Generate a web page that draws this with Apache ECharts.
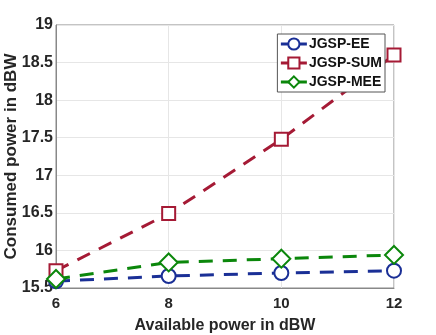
<!DOCTYPE html>
<html>
<head>
<meta charset="utf-8">
<script src="https://cdn.jsdelivr.net/npm/echarts@6/dist/echarts.min.js"></script>
<style>
  html, body { margin: 0; padding: 0; background: #fff; }
  #chart { width: 436px; height: 335px; }
</style>
</head>
<body>
<div id="chart"></div>
<script>
  var xValues = [6, 8, 10, 12];
  var eeValues = [15.59, 15.66, 15.70, 15.73];
  var sumValues = [15.73, 16.49, 17.48, 18.60];
  var meeValues = [15.62, 15.84, 15.89, 15.94];

  function pairs(ys) {
    return xValues.map(function (x, i) { return [x, ys[i]]; });
  }

  var chart = echarts.init(document.getElementById('chart'));
  var font = 'Liberation Sans, Arial, sans-serif';

  function makeSeries(name, ys, color, symbol, size) {
    return {
      name: name,
      type: 'line',
      data: pairs(ys),
      symbol: symbol,
      symbolSize: size,
      showAllSymbol: true,
      lineStyle: { color: color, width: 3, type: [14, 10] },
      itemStyle: { color: color, borderColor: color, borderWidth: 2.5 },
      animation: false
    };
  }

  chart.setOption({
    grid: {
      left: 56, right: 42, top: 25, bottom: 47,
      outerBoundsMode: 'none', containLabel: false,
      show: true, borderColor: '#888', borderWidth: 1
    },
    legend: {
      right: 51, top: 34,
      orient: 'vertical',
      itemGap: 5,
      itemWidth: 26, itemHeight: 14,
      padding: [3, 3, 3, 2],
      borderColor: '#555', borderWidth: 1,
      backgroundColor: '#fff',
      lineStyle: { type: 'solid', width: 3 },
      textStyle: { fontFamily: font, fontWeight: 'bold', fontSize: 14, color: '#111', padding: [0, 0, 0, -3] },
      data: ['JGSP-EE', 'JGSP-SUM', 'JGSP-MEE']
    },
    xAxis: {
      type: 'value', min: 6, max: 12, interval: 2,
      name: 'Available power in dBW',
      nameLocation: 'middle', nameGap: 30,
      nameMoveOverlap: false,
      nameTextStyle: { fontFamily: font, fontWeight: 'bold', fontSize: 16, color: '#262626' },
      axisLine: { lineStyle: { color: '#888' } },
      axisTick: { show: false },
      axisLabel: { fontFamily: font, fontWeight: 'bold', fontSize: 15, color: '#262626', margin: 8 },
      splitLine: { lineStyle: { color: '#e6e6e6' } }
    },
    yAxis: {
      type: 'value', min: 15.5, max: 19, interval: 0.5,
      name: 'Consumed power in dBW',
      nameLocation: 'middle', nameGap: 36,
      nameMoveOverlap: false,
      nameTextStyle: { fontFamily: font, fontWeight: 'bold', fontSize: 17, color: '#262626' },
      axisLine: { show: true, lineStyle: { color: '#888' } },
      axisTick: { show: false },
      axisLabel: { fontFamily: font, fontWeight: 'bold', fontSize: 16, color: '#262626', margin: 3 },
      splitLine: { lineStyle: { color: '#e6e6e6' } }
    },
    series: [
      makeSeries('JGSP-EE', eeValues, '#1a2f96', 'emptyCircle', 14),
      makeSeries('JGSP-SUM', sumValues, '#a51a35', 'emptyRect', 13),
      makeSeries('JGSP-MEE', meeValues, '#0b870b', 'emptyDiamond', 18)
    ]
  });
</script>
</body>
</html>
